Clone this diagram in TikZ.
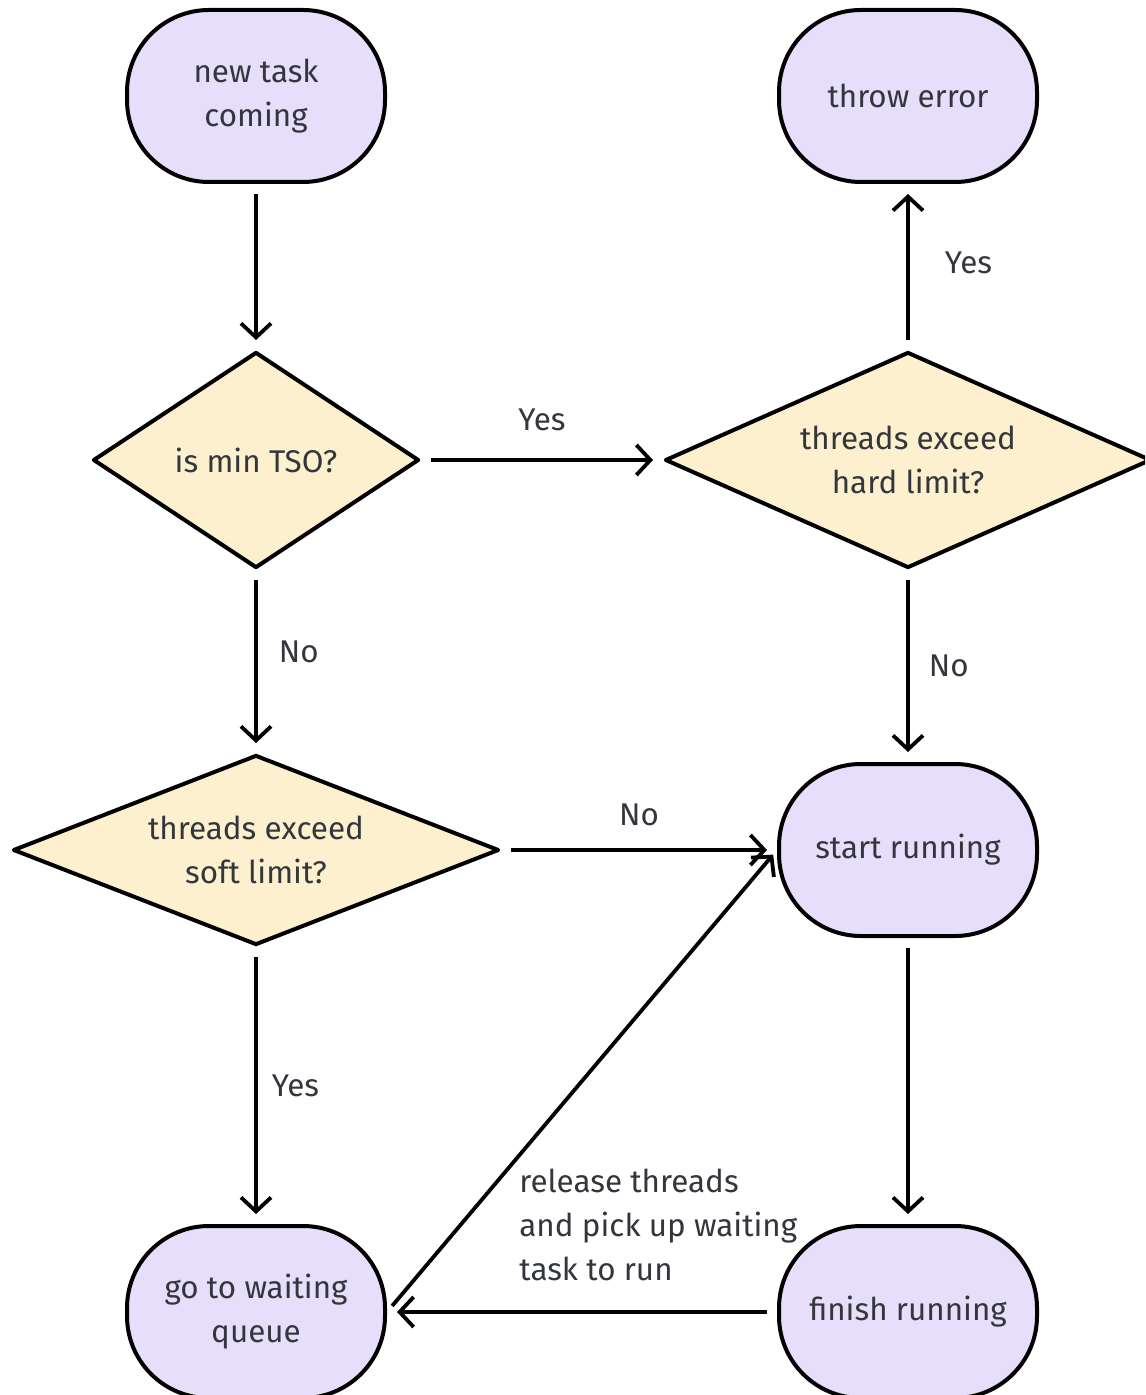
\documentclass[tikz,border=0pt]{standalone}
\usepackage{fontspec}
\setmainfont{Fira Sans}
\usetikzlibrary{shapes.geometric,arrows.meta}
\definecolor{termfill}{HTML}{E6DEFA}
\definecolor{decfill}{HTML}{FDF0CE}
\definecolor{txt}{HTML}{33373D}
\tikzset{
  base/.style={draw=black, line width=2pt, align=center, text=txt, font=\fontsize{15.7}{22}\selectfont},
  term/.style={base, fill=termfill, rounded corners=41pt, minimum width=129pt, minimum height=86pt},
  dec/.style={base, diamond, fill=decfill, inner sep=0pt, line join=round},
  conn/.style={line width=1.9pt, -{Straight Barb[length=7pt,width=15pt]}, shorten <=5pt, shorten >=5pt},
  lbl/.style={text=txt, font=\fontsize{15.7}{22}\selectfont, inner sep=0pt}
}
\begin{document}
\begin{tikzpicture}[x=0.5pt,y=-0.5pt]
\clip (0,0) rectangle (1145,1395);
\fill[white] (0,0) rectangle (1145,1395);
\node[term] (new) at (256,96) {new task\\coming};
\node[term] (err) at (908,96) {throw error};
\node[dec, minimum width=163pt, minimum height=108pt, shape aspect=1.5] (tso) at (256,460) {is min TSO?};
\node[dec, minimum width=243pt, minimum height=108pt, shape aspect=2.2] (hard) at (908,460) {threads exceed\\hard limit?};
\node[dec, minimum width=243pt, minimum height=95pt, shape aspect=2.5] (soft) at (256,850) {threads exceed\\soft limit?};
\node[term] (start) at (908,850) {start running};
\node[term] (finish) at (908,1312) {finish running};
\node[term] (wait) at (256,1312) {go to waiting\\queue};

\draw[conn] (new.south) -- (tso.north);
\draw[conn] (tso.east) -- node[lbl, above=13.5pt] (lyes1) {Yes} (hard.west);
\draw[conn] (hard.north) -- node[lbl, right=17.5pt, yshift=2pt] (lyes2) {Yes} (err.south);
\draw[conn] (tso.south) -- node[lbl, right=10.5pt, yshift=5pt] (lno1) {No} (soft.north);
\draw[conn] (hard.south) -- node[lbl, right=9.5pt] (lno2) {No} (start.north);
\draw[conn] (soft.east) -- node[lbl, above=11pt] (lno3) {No} (start.west);
\draw[conn] (soft.south) -- node[lbl, right=7pt] (lyes3) {Yes} (wait.north);
\draw[conn] (start.south) -- (finish.north);
\draw[conn] (finish.west) -- (wait.east);
\draw[conn, shorten <=4pt, shorten >=3pt] (wait.east) -- (start.west);
\node[lbl, align=left, anchor=west] (rel) at (519,1225) {release threads\\and pick up waiting\\task to run};
\end{tikzpicture}
\end{document}
